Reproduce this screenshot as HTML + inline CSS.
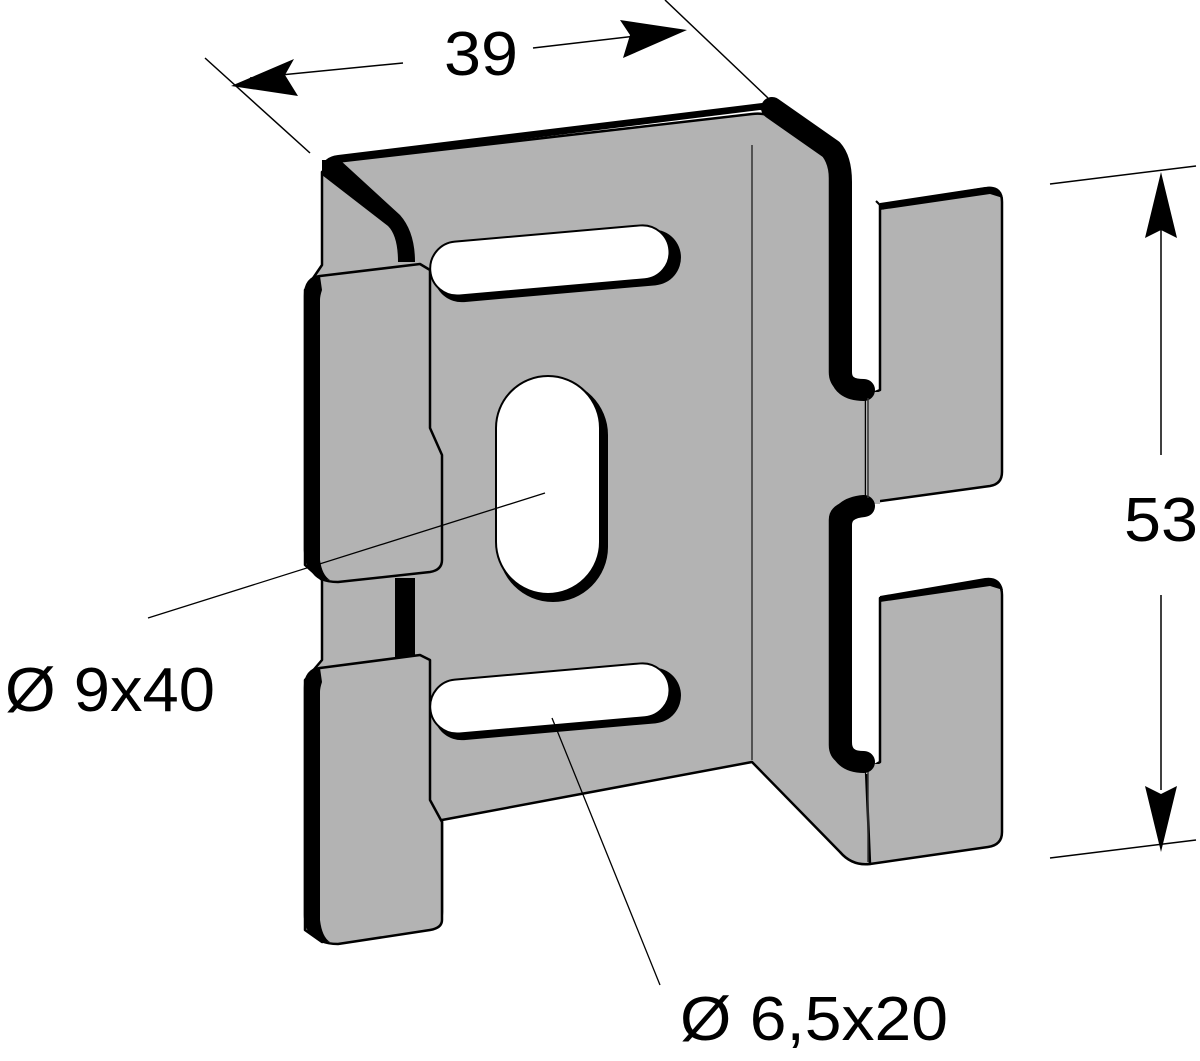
<!DOCTYPE html>
<html><head><meta charset="utf-8"><style>
html,body{margin:0;padding:0;background:#fff;width:1200px;height:1061px;overflow:hidden}
svg{display:block}
text{font-family:"Liberation Sans",Arial,sans-serif;fill:#000}
</style></head><body>
<svg width="1200" height="1061" viewBox="0 0 1200 1061" xmlns="http://www.w3.org/2000/svg">
<g stroke-linejoin="round">
<!-- gray main plate + flange -->
<path d="M322,172 L322,265 L305,290 L305,565 L322,580 L322,660 L305,680 L305,930 L322,942 L430,926 Q442,924 442,912 L442,820 L752,762 L840,852 Q852,866 870,864 L868,768 Q830,768 830,745 L830,520 Q830,500 868,500 L868,396 Q830,396 830,372 L830,178 Q830,160 818,150 L782,122 Q770,112 752,114 L335,162 Z" fill="#b3b3b3" stroke="#000" stroke-width="2.5"/>
<!-- white notches -->
<path d="M850,200 L880,200 L880,375 Q880,392 865,392 Q850,392 850,375 Z" fill="#fff"/>
<path d="M850,508 L880,503 L1002,486 L1002,582 L880,598 L880,748 Q880,764 865,764 Q850,764 850,748 Z" fill="#fff"/>
<!-- upper tab -->
<path d="M866,396 L880,390 L880,205 L988,188 Q1002,187 1002,202 L1002,472 Q1002,484 990,486 L866,503 Z" fill="#b3b3b3" stroke="#000" stroke-width="2.5"/>
<!-- lower tab -->
<path d="M866,770 L880,762 L880,598 L988,580 Q1002,580 1002,595 L1002,832 Q1002,845 988,847 L870,864 Z" fill="#b3b3b3" stroke="#000" stroke-width="2.5"/>
<rect x="866" y="392" width="14" height="112" fill="#b3b3b3"/>
<rect x="866" y="764" width="14" height="10" fill="#b3b3b3"/>
<!-- black thickness bands right -->
<path d="M772,108 L832,150 Q841,160 841,182 L841,372 Q841,390 864,390" fill="none" stroke="#000" stroke-width="22" stroke-linecap="round"/>
<path d="M864,506 Q841,508 841,525 L841,742 Q841,762 864,762" fill="none" stroke="#000" stroke-width="22" stroke-linecap="round"/>
<path d="M880,203 L985,187 Q1000,185 1003,198 L990,194 L880,210 Z" fill="#000"/>
<path d="M880,596 L985,578 Q1000,576 1003,590 L990,586 L880,602 Z" fill="#000"/>
<line x1="876" y1="201" x2="884" y2="209" stroke="#000" stroke-width="2"/>
<!-- top edge thick -->
<path d="M322,170 Q322,157 338,155 L762,103 Q774,101 784,109 L790,116 L760,110 L340,162 Z" fill="#000"/>
<!-- top fold black diagonal -->
<path d="M322,160 L340,160 L400,215 Q415,232 415,262 L398,262 Q398,236 388,226 L322,175 Z" fill="#000"/>
<!-- upper left tab -->
<path d="M320,276 L420,264 L430,270 L430,428 L442,455 L442,560 Q442,570 430,572 L338,582 Q318,582 312,570 Q305,560 305,550 L305,296 Q305,278 320,276 Z" fill="#b3b3b3" stroke="#000" stroke-width="2.5"/>
<path d="M305,296 Q305,278 320,276 L322,290 Q320,296 320,300 L320,560 Q322,575 330,580 Q310,578 305,560 Z" fill="#000"/>
<rect x="395" y="578" width="20" height="84" fill="#000"/>
<!-- lower left tab -->
<path d="M320,668 L420,655 L430,660 L430,800 L442,822 L442,920 Q442,928 430,930 L338,944 Q318,944 312,932 Q305,925 305,915 L305,688 Q305,670 320,668 Z" fill="#b3b3b3" stroke="#000" stroke-width="2.5"/>
<path d="M305,688 Q305,670 320,668 L322,682 Q320,688 320,692 L320,920 Q322,937 330,942 Q310,940 305,925 Z" fill="#000"/>
<!-- bend lines -->
<line x1="752" y1="145" x2="752" y2="760" stroke="#333" stroke-width="1.5"/>
<line x1="868" y1="398" x2="868" y2="498" stroke="#333" stroke-width="1.5"/>
<line x1="868" y1="772" x2="868" y2="862" stroke="#333" stroke-width="1.5"/>
</g>
<!-- slots -->
<g transform="rotate(-5 555 262)">
<rect x="433" y="238" width="248" height="56" rx="28" fill="#000"/>
<rect x="430" y="233" width="240" height="54" rx="27" fill="#fff" stroke="#000" stroke-width="2"/>
</g>
<g transform="rotate(-5 555 700)">
<rect x="433" y="676" width="248" height="56" rx="28" fill="#000"/>
<rect x="430" y="671" width="240" height="54" rx="27" fill="#fff" stroke="#000" stroke-width="2"/>
</g>
<rect x="498" y="380" width="110" height="222" rx="55" fill="#000"/>
<rect x="496" y="376" width="104" height="218" rx="52" fill="#fff" stroke="#000" stroke-width="2"/>
<!-- leaders -->
<line x1="545" y1="493" x2="148" y2="618" stroke="#000" stroke-width="1.3"/>
<line x1="552" y1="718" x2="660" y2="985" stroke="#000" stroke-width="1.3"/>
<text x="5" y="711" font-size="62" textLength="210" lengthAdjust="spacingAndGlyphs">Ø 9x40</text>
<text x="680" y="1040" font-size="62" textLength="268" lengthAdjust="spacingAndGlyphs">Ø 6,5x20</text>
<!-- dimension 39 -->
<line x1="205" y1="58" x2="310" y2="153" stroke="#000" stroke-width="1.5"/>
<line x1="665" y1="0" x2="768" y2="98" stroke="#000" stroke-width="1.5"/>
<line x1="250" y1="78" x2="403" y2="63" stroke="#000" stroke-width="1.5"/>
<line x1="533" y1="48" x2="670" y2="32" stroke="#000" stroke-width="1.5"/>
<path d="M231,86 L294,59 L285,75 L298,96 Z" fill="#000"/>
<path d="M687,30 L620,20 L630,35 L623,58 Z" fill="#000"/>
<text x="444" y="75" font-size="62" textLength="74" lengthAdjust="spacingAndGlyphs">39</text>
<!-- dimension 53 -->
<line x1="1050" y1="184" x2="1196" y2="166" stroke="#000" stroke-width="1.5"/>
<line x1="1050" y1="858" x2="1196" y2="840" stroke="#000" stroke-width="1.5"/>
<line x1="1161" y1="230" x2="1161" y2="455" stroke="#000" stroke-width="1.5"/>
<line x1="1161" y1="595" x2="1161" y2="790" stroke="#000" stroke-width="1.5"/>
<path d="M1161,172 L1145,238 L1161,230 L1177,238 Z" fill="#000"/>
<path d="M1161,852 L1145,786 L1161,794 L1177,786 Z" fill="#000"/>
<text x="1124" y="541" font-size="62" textLength="74" lengthAdjust="spacingAndGlyphs">53</text>
</svg>
</body></html>
